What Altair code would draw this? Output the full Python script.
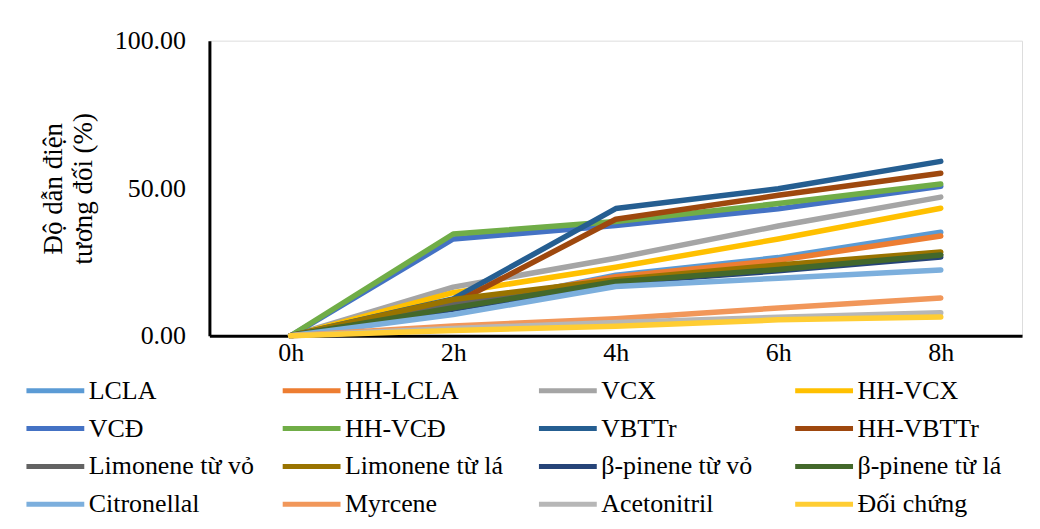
import altair as alt
import pandas as pd

times = ["0h", "2h", "4h", "6h", "8h"]

series = ["LCLA", "HH-LCLA", "VCX", "HH-VCX", "VCĐ", "HH-VCĐ", "VBTTr", "HH-VBTTr",
          "Limonene từ vỏ", "Limonene từ lá", "β-pinene từ vỏ", "β-pinene từ lá",
          "Citronellal", "Myrcene", "Acetonitril", "Đối chứng"]

colors = ["#5B9BD5", "#ED7D31", "#A5A5A5", "#FFC000", "#4472C4", "#70AD47", "#255E91", "#9E480E",
          "#636363", "#997300", "#264478", "#43682B", "#7CAFDD", "#F1975A", "#B7B7B7", "#FFCD33"]

lcla = [0, 9.5, 20.5, 26.5, 35.1]
hh_lcla = [0, 10.3, 20.0, 25.6, 33.8]
vcx = [0, 16.5, 26.3, 37.2, 47.0]
hh_vcx = [0, 14.6, 23.2, 32.8, 43.2]
vcd = [0, 32.8, 37.4, 43.0, 50.7]
hh_vcd = [0, 34.5, 38.7, 44.8, 51.4]
vbttr = [0, 12.5, 43.1, 49.8, 59.1]
hh_vbttr = [0, 10.8, 39.5, 47.6, 55.1]
limonene_vo = [0, 11.0, 18.5, 23.0, 27.5]
limonene_la = [0, 12.3, 19.0, 24.0, 28.4]
pinene_vo = [0, 9.0, 18.0, 22.0, 26.7]
pinene_la = [0, 9.5, 18.3, 22.5, 27.4]
citronellal = [0, 7.2, 16.7, 19.5, 22.3]
myrcene = [0, 3.3, 5.8, 9.4, 12.8]
acetonitril = [0, 2.5, 4.5, 6.3, 7.8]
doi_chung = [0, 1.8, 3.2, 5.4, 6.4]

values = [lcla, hh_lcla, vcx, hh_vcx, vcd, hh_vcd, vbttr, hh_vbttr,
          limonene_vo, limonene_la, pinene_vo, pinene_la,
          citronellal, myrcene, acetonitril, doi_chung]

rows = []
for i, (name, vals) in enumerate(zip(series, values)):
    for t, v in zip(times, vals):
        rows.append({"series": name, "time": t, "value": v, "idx": i})
df = pd.DataFrame(rows)

FONT = "Times New Roman, Liberation Serif, serif"

chart = alt.Chart(df).mark_line(strokeWidth=5.5, strokeCap="round", strokeJoin="round").encode(
    x=alt.X("time:N", sort=times,
            axis=alt.Axis(title=None, labelAngle=0, ticks=False, domainColor="black",
                          domainWidth=3, labelFont=FONT, labelFontSize=26, labelColor="black",
                          labelPadding=4),
            scale=alt.Scale(paddingOuter=0.5)),
    y=alt.Y("value:Q", scale=alt.Scale(domain=[0, 100], nice=False),
            axis=alt.Axis(values=[0, 50, 100], format=".2f", grid=False, ticks=False,
                          domainColor="black", domainWidth=3, labelFont=FONT,
                          labelFontSize=26, labelColor="black", labelPadding=24,
                          title=["Độ dẫn điện", "tương đối (%)"], titleFont=FONT,
                          titleFontSize=27, titleFontWeight="normal", titleColor="black",
                          titlePadding=17, titleLineHeight=30)),
    color=alt.Color("series:N", sort=series,
                    scale=alt.Scale(domain=series, range=colors),
                    legend=alt.Legend(title=None, orient="none", legendX=-186, legendY=334,
                                      columns=4, direction="horizontal",
                                      symbolType="M-1,0L3,0", symbolStrokeWidth=5,
                                      symbolSize=841, labelFont=FONT, labelFontSize=26,
                                      labelColor="black", labelLimit=400, gridAlign="all",
                                      columnPadding=18, rowPadding=8, labelOffset=31)),
    order=alt.Order("idx:Q"),
).properties(
    width=815, height=296,
    padding={"left": 202, "top": 32, "right": 10, "bottom": 189},
    autosize=alt.AutoSizeParams(type="none"),
).configure_view(stroke=None).configure(background="white")

chart.save("out.html", embed_options={"renderer": "svg", "actions": False})
